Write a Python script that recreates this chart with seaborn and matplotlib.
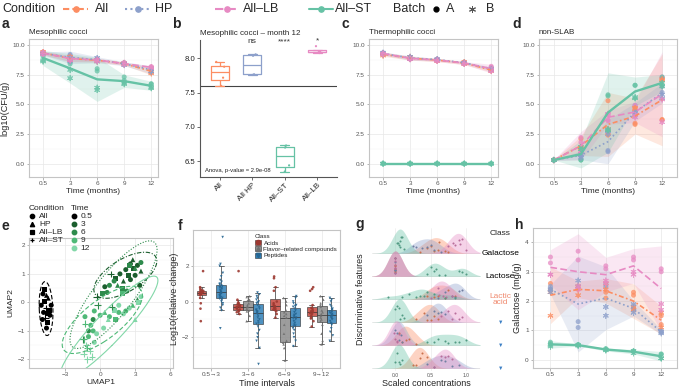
import numpy as np
import pandas as pd
import matplotlib
matplotlib.use("Agg")
import matplotlib.pyplot as plt
from matplotlib.lines import Line2D
from matplotlib.patches import Patch
from matplotlib.ticker import AutoMinorLocator
from matplotlib.colors import to_hex, to_rgb
import seaborn as sns

COND = ["All", "HP", "All–LB", "All–ST"]
COND_COLORS = ["#fc8d62", "#8da0cb", "#e78ac3", "#66c2a5"]
TIMES = ["0.5", "3", "6", "9", "12"]
BATCH = ["A", "A", "B", "B"]

# a: mesophilic cocci, log10(CFU/g); one list per time point
meso_all = [[9.35, 9.3, 9.4, 9.25], [8.9, 8.8, 9.0, 8.7], [8.7, 8.8, 8.6, 8.75], [8.4, 8.5, 8.35, 8.45], [7.95, 7.88, 7.72, 7.6]]
meso_hp = [[9.3, 9.35, 9.2, 9.3], [9.2, 9.1, 8.6, 8.9], [8.8, 8.7, 8.9, 8.6], [8.5, 8.4, 8.45, 8.3], [8.06, 8.04, 7.77, 7.76]]
meso_lb = [[9.4, 9.3, 9.35, 9.2], [8.9, 9.0, 8.8, 8.7], [8.7, 8.8, 8.65, 8.75], [8.4, 8.45, 8.35, 8.5], [8.18, 8.1, 8.1, 8.08]]
meso_st = [[9.3, 9.0, 8.7, 8.6], [8.6, 8.4, 7.2, 7.9], [8.0, 7.8, 6.2, 6.4], [7.3, 7.0, 6.7, 6.8], [6.73, 6.7, 6.44, 6.35]]

# c: thermophilic cocci
thermo_all = [[9.2, 9.3, 9.1, 9.25], [8.9, 8.8, 9.0, 8.85], [8.7, 8.8, 8.75, 8.65], [8.5, 8.45, 8.55, 8.4], [7.9, 8.0, 7.85, 7.8]]
thermo_hp = [[9.3, 9.25, 9.2, 9.35], [8.95, 8.85, 8.8, 9.0], [8.8, 8.7, 8.75, 8.8], [8.55, 8.5, 8.45, 8.5], [8.1, 8.0, 7.9, 7.95]]
thermo_lb = [[9.3, 9.35, 9.25, 9.2], [8.9, 8.95, 8.85, 8.8], [8.75, 8.8, 8.7, 8.65], [8.5, 8.55, 8.45, 8.4], [8.2, 8.1, 7.8, 7.9]]
thermo_st = [[0, 0, 0, 0], [0, 0, 0, 0], [0, 0, 0, 0], [0, 0, 0, 0], [0, 0, 0, 0]]

# d: non-SLAB
nonslab_all = [[0.3, 0.32, 0.28, 0.3], [2.1, 1.4, 1.2, 1.3], [5.3, 2.4, 2.6, 2.9], [3.3, 3.4, 4.6, 4.7], [3.7, 3.7, 7.1, 7.0]]
nonslab_hp = [[0.3, 0.3, 0.32, 0.28], [0.9, 0.6, 0.5, 0.8], [1.1, 1.0, 2.8, 2.5], [4.9, 4.0, 4.3, 4.2], [6.5, 6.0, 5.5, 5.8]]
nonslab_lb = [[0.3, 0.28, 0.3, 0.32], [2.2, 1.8, 1.0, 1.0], [3.6, 3.7, 4.2, 4.1], [4.9, 4.5, 4.1, 3.9], [7.3, 7.2, 3.5, 5.4]]
nonslab_st = [[0.3, 0.3, 0.3, 0.3], [0.3, 0.3, 1.2, 1.4], [5.8, 5.7, 2.9, 2.8], [6.6, 6.6, 5.6, 5.5], [7.3, 6.6, 6.5, 6.8]]

# h: galactose (mg/g)
gal_all = [[2.6, 2.4, 2.3, 1.5], [2.5, 2.4, 2.2, 2.5], [2.3, 2.1, 2.6, 2.4], [2.3, 2.2, 1.7, 1.8], [1.5, 1.2, 1.6, 1.1]]
gal_hp = [[2.5, 2.4, 2.3, 2.4], [1.3, 1.1, 2.5, 2.7], [2.6, 2.5, 1.8, 1.5], [1.8, 1.7, 1.6, 1.9], [1.0, 0.95, 0.9, 0.95]]
gal_lb = [[3.5, 3.3, 2.9, 2.9], [3.7, 3.4, 2.5, 2.4], [3.2, 3.1, 2.7, 2.6], [3.5, 3.4, 2.9, 3.0], [3.1, 3.0, 1.9, 1.7]]
gal_st = [[0.6, 0.55, 0.45, 0.5], [0.5, 0.52, 0.48, 0.5], [0.38, 0.35, 0.32, 0.35], [0.3, 0.28, 0.22, 0.3], [0.2, 0.18, 0.05, 0.05]]

# b: month-12 groups
B_ORDER = ["All", "All HP", "All–ST", "All–LB"]
B_COLORS = ["#fc8d62", "#8da0cb", "#66c2a5", "#e78ac3"]

# e: UMAP coordinates
umap_x = [-4.9, -4.6, -4.45, -4.8, -5.05, -4.65, -4.35, -4.85, -4.55, -4.3, -4.7, -4.95, -4.5, -4.6, -4.75, -4.2,
          2.8, 2.6, 3.2, 2.9, 3.5, 2.2, 1.7, 2.4, 3.0, 2.6, 0.9, 3.4, 1.3, 2.0, 0.4, -0.3,
          -1.5, -1.0, -0.6, -0.2, 0.2, 0.6, 0.8, 1.2, 1.5, 1.9, 2.3, 2.5, 3.0, 3.5, 3.2, 1.0,
          -0.5, 0.0, 0.4, 0.8, 1.3, 1.6, 2.2, 2.8, -1.3, -0.8, -1.3, -1.0, -0.6, -1.4, -1.1, 1.9,
          -1.2, -0.9, -1.4, -0.7, -1.1, -0.5, -0.3, 0.3, 1.2, 3.0, 2.5, 3.3, 2.0, 0.7, 3.5, 1.6]
umap_y = [0.3, 0.25, 0.15, 0.05, -0.1, -0.2, -0.3, -0.35, -0.4, -0.45, -0.55, -0.6, -0.7, -0.9, 0.45, -0.1,
          1.5, 1.35, 1.3, 1.2, 1.1, 1.15, 1.0, 0.95, 0.95, 0.8, 1.0, 0.6, 0.85, 0.75, 0.55, 0.2,
          -1.3, -1.0, -0.6, -0.1, 0.3, 0.35, 0.6, 0.75, 0.6, 0.5, 0.4, 1.3, 1.2, 1.4, 0.1, -0.15,
          -0.3, -0.45, -0.35, -0.5, -0.6, -0.35, -0.3, -0.1, -0.5, -0.8, -0.75, -1.2, -1.0, -1.3, -1.6, 0.3,
          -1.5, -1.7, -1.8, -1.9, -2.0, -1.4, -1.1, -0.9, -0.3, -0.6, -0.2, 0.0, -0.4, -0.6, 0.2, -0.1]
umap_cond = ["All", "HP", "HP", "All–LB", "All", "All–ST", "All–LB", "All", "All–LB", "All", "All–ST", "All", "All–LB", "All", "All–LB", "All",
             "HP", "All", "All", "All–LB", "HP", "All", "All", "All–LB", "All", "All", "All–ST", "All", "All–LB", "HP", "All", "All–ST",
             "All–ST", "All", "All", "All–ST", "All–LB", "All", "All", "All", "HP", "All–LB", "All", "All–LB", "HP", "All", "HP", "All–ST",
             "All", "All", "HP", "All", "All–LB", "All", "All", "HP", "All", "All", "All–ST", "All", "All", "All–ST", "All–ST", "All–LB",
             "All–ST", "All–ST", "All–ST", "All–ST", "All–ST", "All", "All", "All", "All–LB", "HP", "All", "All–LB", "All", "HP", "All", "All"]
umap_time = ["0.5"] * 16 + ["3"] * 16 + ["6"] * 16 + ["9"] * 16 + ["12"] * 16
TIME_COLORS = ["#000000", "#1b5e2e", "#2e8b4c", "#4fb977", "#82d7a8"]

# f: log10 relative change per interval and class
INTERVALS = ["0.5→3", "3→6", "6→9", "9→12"]
CLASSES = ["Acids", "Flavor–related compounds", "Peptides"]
CLASS_COLORS = ["#c4473d", "#8c8c8c", "#2f7fb6"]
acids_1 = [1.7, 0.8, 0.7, 0.65, 0.6, 0.6, 0.55, 0.55, 0.5, 0.5, 0.45, 0.45, 0.4, 0.35, 0.2, -0.1, -0.4, -1.1]
pep_1 = [3.6, 2.1, 2.0, 1.6, 1.4, 1.2, 1.1, 1.0, 0.95, 0.9, 0.85, 0.8, 0.8, 0.75, 0.7, 0.65, 0.6, 0.55,
         0.5, 0.5, 0.45, 0.4, 0.35, 0.3, 0.25, 0.2, 0.2, 0.15, 0.1, 0.0, -0.1, -0.2, -0.35, -0.5, -1.5]
acids_2 = [1.7, 0.1, -0.05, -0.1, -0.15, -0.2, -0.25, -0.3, -0.3, -0.35, -0.4, -0.45, -0.5, -0.55, -0.6, -0.7]
flav_2 = [0.3, 0.25, 0.1, 0.05, -0.1, -0.2, -0.3, -0.3, -0.4, -0.5, -0.55, -0.8, -1.1]
pep_2 = [0.5, 0.4, 0.3, 0.2, 0.1, 0.0, -0.05, -0.1, -0.2, -0.3, -0.4, -0.45, -0.5, -0.55, -0.6,
         -0.65, -0.7, -0.8, -0.9, -1.0, -1.1, -1.2, -1.25, -1.4, -1.6, -1.8, -2.0, -2.2, -2.6, -3.5]
acids_3 = [1.4, 1.3, 0.8, 0.6, 0.0, -0.1, -0.2, -0.25, -0.3, -0.35, -0.4, -0.45, -0.5, -0.55, -0.7, -0.9]
flav_3 = [0.2, 0.0, -0.2, -0.5, -0.6, -0.7, -0.8, -0.9, -1.3, -1.8, -2.2, -2.3, -2.4, -2.6, -3.3]
pep_3 = [0.3, 0.2, 0.0, -0.1, -0.2, -0.25, -0.3, -0.4, -0.5, -0.6, -0.7, -0.75, -0.8, -0.85,
         -0.9, -0.95, -1.0, -1.1, -1.2, -1.3, -1.35, -1.4, -1.5, -1.6, -1.8, -2.0, -2.2, -2.5]
acids_4 = [0.8, 0.7, 0.6, -0.2, -0.35, -0.4, -0.5, -0.55, -0.6, -0.65, -0.7, -0.8, -0.9, -0.95, -1.1, -1.4]
flav_4 = [0.3, 0.1, -0.1, -0.2, -0.3, -0.5, -0.6, -0.7, -0.8, -0.9, -1.0, -1.1, -1.3, -1.8, -2.2, -2.4]
pep_4 = [0.2, 0.1, 0.0, -0.2, -0.3, -0.4, -0.45, -0.5, -0.55, -0.6, -0.65, -0.7, -0.75, -0.8,
         -0.85, -0.9, -0.95, -1.0, -1.1, -1.2, -1.25, -1.3, -1.5, -1.7, -1.9, -2.2]

# g: scaled concentrations of discriminative features (All, HP, All-LB, All-ST)
galsc_all = [0.35, 0.45, 0.5, 0.55, 0.6, 0.62, 0.7, 0.75]
galsc_hp = [0.25, 0.3, 0.38, 0.45, 0.5, 0.55, 0.65]
galsc_lb = [0.75, 0.82, 0.85, 0.9, 0.92, 0.95, 1.0]
galsc_st = [0.02, 0.04, 0.05, 0.06, 0.07, 0.08, 0.1, 0.12]
lacsc_all = [0, 0, 0, 0, 0, 0]
lacsc_hp = [0, 0, 0, 0, 0, 0]
lacsc_lb = [0, 0, 0, 0, 0, 0]
lacsc_st = [0.45, 0.5, 0.55, 0.58, 0.62, 0.7, 0.9, 0.95, 1.0]
lasc_all = [0.45, 0.55, 0.6, 0.7, 0.75, 0.85]
lasc_hp = [0.6, 0.7, 0.8, 0.85, 0.9, 0.95]
lasc_lb = [0.5, 0.6, 0.62, 0.68, 0.72, 0.8]
lasc_st = [-0.1, 0.1, 0.2, 0.3, 0.35, 0.4, 0.45, 0.55, 0.7, 0.85]
p1sc_all = [0.3, 0.4, 0.45, 0.5, 0.55, 0.6]
p1sc_hp = [0.45, 0.55, 0.6, 0.65, 0.7]
p1sc_lb = [0.65, 0.75, 0.8, 0.85, 0.9, 0.95]
p1sc_st = [0.0, 0.02, 0.05, 0.07, 0.1, 0.12]
p2sc_all = [0.05, 0.1, 0.15, 0.2, 0.3]
p2sc_hp = [0.0, 0.02, 0.05, 0.08, 0.1]
p2sc_lb = [-0.02, 0.0, 0.02, 0.03, 0.05]
p2sc_st = [0.45, 0.55, 0.6, 0.7, 0.75, 0.85, 0.9, 1.0]
p3sc_all = [0.25, 0.3, 0.35, 0.38, 0.45]
p3sc_hp = [0.45, 0.55, 0.65, 0.7, 0.8, 0.9]
p3sc_lb = [0.55, 0.65, 0.7, 0.75, 0.8]
p3sc_st = [0.0, 0.03, 0.05, 0.07, 0.1]

PAL = dict(zip(COND, COND_COLORS))
DASHES = {"All": (3, 1.5, 1, 1.5), "HP": (1, 1.6), "All–LB": (4, 2), "All–ST": ""}

sns.set_theme(style="white")
plt.rcParams["font.family"] = ["Liberation Sans", "DejaVu Sans"]

W, H = 680, 387
fig = plt.figure(figsize=(W / 100, H / 100), dpi=100)


def add_ax(l, t, r, b):
    return fig.add_axes([l / W, 1 - b / H, (r - l) / W, (b - t) / H])


def darker(c, f=0.75):
    return tuple(v * f for v in to_rgb(c))


def light(ax, minor_y=True):
    ax.set_facecolor("white")
    ax.set_axisbelow(True)
    ax.grid(True, which="major", color="#e8e8e8", lw=0.5)
    if minor_y:
        ax.yaxis.set_minor_locator(AutoMinorLocator(2))
        ax.grid(True, which="minor", axis="y", color="#f3f3f3", lw=0.35)
    for s in ax.spines.values():
        s.set_visible(True)
        s.set_color("#c4c4c4")
        s.set_linewidth(0.8)
    ax.tick_params(which="major", bottom=True, left=True, labelsize=4.6, labelcolor="#555555",
                   color="#999999", length=1.8, width=0.5, pad=1.2)
    ax.tick_params(which="minor", length=0)


def cond_frame(series):
    rows = []
    for cond, per_time in zip(COND, series):
        for ti, vals in enumerate(per_time):
            for b, v in zip(BATCH, vals):
                rows.append((cond, ti, b, v))
    return pd.DataFrame(rows, columns=["Condition", "t", "Batch", "value"])


def time_panel(ax, series, title, xlim, ylim, yticks, yticklabels):
    df = cond_frame(series)
    sns.lineplot(data=df, x="t", y="value", hue="Condition", style="Condition",
                 hue_order=COND, style_order=COND, palette=PAL, dashes=DASHES,
                 errorbar=("sd", 2), err_kws={"alpha": 0.2, "linewidth": 0},
                 linewidth=1.2, legend=False, ax=ax)
    for ln in ax.lines:
        if to_hex(ln.get_color()) == PAL["All–ST"]:
            ln.set_linewidth(1.7)
    sns.scatterplot(data=df[df.Batch == "A"], x="t", y="value", hue="Condition", hue_order=COND,
                    palette=PAL, marker="o", s=13, alpha=0.75, linewidth=0, legend=False, ax=ax)
    sns.scatterplot(data=df[df.Batch == "B"], x="t", y="value", hue="Condition", hue_order=COND,
                    palette=PAL, marker=(6, 2, 0), s=14, alpha=0.8, linewidth=0.7, legend=False, ax=ax)
    ax.set_xlim(*xlim)
    ax.set_ylim(*ylim)
    ax.set_xticks(range(len(TIMES)))
    ax.set_xticklabels(TIMES)
    ax.set_yticks(yticks)
    ax.set_yticklabels(yticklabels)
    light(ax)
    ax.set_xlabel("Time (months)", fontsize=6, labelpad=1.5)
    ax.set_ylabel("")
    if title:
        ax.set_title(title, loc="left", fontsize=5.8, pad=3.5)


cfu_ticks = [0, 2.5, 5, 7.5, 10]
cfu_labels = ["0.0", "2.5", "5.0", "7.5", "10.0"]

# ---- a
ax_a = add_ax(29, 39, 158, 177)
time_panel(ax_a, [meso_all, meso_hp, meso_lb, meso_st], "Mesophilic cocci", (-0.52, 4.25), (-1.13, 10.5), cfu_ticks, cfu_labels)
ax_a.set_ylabel("log10(CFU/g)", fontsize=6.6, labelpad=2)

# ---- c
ax_c = add_ax(369, 39, 498, 177)
time_panel(ax_c, [thermo_all, thermo_hp, thermo_lb, thermo_st], "Thermophilic cocci", (-0.52, 4.25), (-1.13, 10.5), cfu_ticks, cfu_labels)

# ---- d
ax_d = add_ax(539, 39, 677, 177)
time_panel(ax_d, [nonslab_all, nonslab_hp, nonslab_lb, nonslab_st], "non-SLAB", (-0.55, 4.55), (-1.13, 10.5), cfu_ticks, cfu_labels)

# ---- h
ax_h = add_ax(533, 228, 677, 368)
time_panel(ax_h, [gal_all, gal_hp, gal_lb, gal_st], None, (-0.63, 4.57), (-0.28, 4.49), [0, 1, 2, 3, 4], ["0", "1", "2", "3", "4"])
ax_h.set_xlabel("")
ax_h.set_ylabel("Galactose (mg/g)", fontsize=6.6, labelpad=2)

# ---- b
ax_b = add_ax(200, 40, 337, 177)
b_vals = [meso_all[4], meso_hp[4], meso_st[4], meso_lb[4]]
bdf = pd.DataFrame({"Group": np.repeat(B_ORDER, [len(v) for v in b_vals]), "value": np.concatenate(b_vals)})
b_pal = dict(zip(B_ORDER, B_COLORS))
ax_b.axhline(bdf["value"].mean(), color="#444444", lw=0.8, zorder=0)
sns.boxplot(data=bdf, x="Group", y="value", hue="Group", order=B_ORDER, hue_order=B_ORDER, palette=b_pal,
            fill=False, width=0.55, linewidth=0.9, showfliers=False, legend=False, ax=ax_b)
sns.stripplot(data=bdf, x="Group", y="value", hue="Group", order=B_ORDER, hue_order=B_ORDER, palette=b_pal,
              size=1.6, jitter=0.15, legend=False, ax=ax_b)
ax_b.set_ylim(6.27, 8.27)
ax_b.set_yticks([6.5, 7.0, 7.5, 8.0])
ax_b.set_yticklabels(["6.5", "7.0", "7.5", "8.0"])
ax_b.set_xlim(-0.6, 3.6)
for s in ["top", "right"]:
    ax_b.spines[s].set_visible(False)
for s in ["left", "bottom"]:
    ax_b.spines[s].set_color("#555555")
    ax_b.spines[s].set_linewidth(0.8)
ax_b.tick_params(bottom=True, left=True, labelsize=5.6, labelcolor="#222222", color="#555555",
                 length=2, width=0.6, pad=1.2)
plt.setp(ax_b.get_xticklabels(), rotation=45, ha="right", rotation_mode="anchor", fontsize=5.8)
ax_b.set_xlabel("")
ax_b.set_ylabel("")
ax_b.set_title("Mesophilic cocci – month 12", loc="left", fontsize=5.8, pad=3.5)
for xi, lab, yv in [(1, "ns", 8.19), (2, "****", 8.19), (3, "*", 8.2)]:
    ax_b.text(xi, yv, lab, ha="center", va="bottom", fontsize=6, color="#333333")
ax_b.text(0.04, 0.035, "Anova, p-value = 2.9e-08", transform=ax_b.transAxes, fontsize=4.2, color="#222222")

# ---- e
ax_e = add_ax(29, 238, 173, 368)
edf = pd.DataFrame({"x": umap_x, "y": umap_y, "Condition": umap_cond, "Time": umap_time})
time_pal = dict(zip(TIMES, TIME_COLORS))
ell_styles = {"0.5": (0, (4, 2)), "3": (0, (4, 1.5, 1, 1.5)), "6": (0, (1, 1.5)), "9": (0, (4, 2)), "12": "-"}
t = np.linspace(0, 2 * np.pi, 200)
for tm in TIMES:
    sub = edf[edf.Time == tm]
    pts = sub[["x", "y"]].to_numpy()
    mu = pts.mean(axis=0)
    vals, vecs = np.linalg.eigh(np.cov(pts, rowvar=False))
    ell = (np.column_stack([np.cos(t), np.sin(t)]) * np.sqrt(vals) * 2.45) @ vecs.T + mu
    ax_e.plot(ell[:, 0], ell[:, 1], color=time_pal[tm], ls=ell_styles[tm], lw=0.8)
shape_map = {"All": "o", "HP": "^", "All–LB": "s"}
sns.scatterplot(data=edf[edf.Condition != "All–ST"], x="x", y="y", hue="Time", hue_order=TIMES, palette=time_pal,
                style="Condition", style_order=list(shape_map), markers=shape_map, s=13, linewidth=0,
                legend=False, ax=ax_e)
sns.scatterplot(data=edf[edf.Condition == "All–ST"], x="x", y="y", hue="Time", hue_order=TIMES, palette=time_pal,
                marker="+", s=24, linewidth=0.8, legend=False, ax=ax_e)
ax_e.set_xlim(-6.1, 6.25)
ax_e.set_ylim(-2.3, 2.26)
ax_e.set_xticks([-3, 0, 3, 6])
ax_e.set_yticks([-2, -1, 0, 1, 2])
light(ax_e)
ax_e.set_xlabel("UMAP1", fontsize=6, labelpad=1)
ax_e.set_ylabel("UMAP2", fontsize=6, labelpad=2)
cond_h = [Line2D([], [], marker=m, color="black", ls="", ms=3.2, mew=0.9) for m in ["o", "^", "s", "+"]]
leg1 = ax_e.legend(cond_h, ["All", "HP", "All–LB", "All–ST"], title="Condition", loc="upper left",
                   bbox_to_anchor=(0.0, 1.25), frameon=False, fontsize=6, title_fontsize=6,
                   handlelength=0.8, handletextpad=0.4, labelspacing=0.02, borderpad=0, borderaxespad=0)
leg1._legend_box.align = "left"
ax_e.add_artist(leg1)
time_h = [Line2D([], [], marker="o", color=c, ls="", ms=3.2) for c in TIME_COLORS]
leg2 = ax_e.legend(time_h, TIMES, title="Time", loc="upper left", bbox_to_anchor=(0.29, 1.25), frameon=False,
                   fontsize=6, title_fontsize=6, handlelength=0.8, handletextpad=0.4, labelspacing=0.02,
                   borderpad=0, borderaxespad=0)
leg2._legend_box.align = "left"

# ---- f
ax_f = add_ax(193, 230, 340, 368)
f_groups = [(INTERVALS[0], CLASSES[0], acids_1), (INTERVALS[0], CLASSES[2], pep_1),
            (INTERVALS[1], CLASSES[0], acids_2), (INTERVALS[1], CLASSES[1], flav_2), (INTERVALS[1], CLASSES[2], pep_2),
            (INTERVALS[2], CLASSES[0], acids_3), (INTERVALS[2], CLASSES[1], flav_3), (INTERVALS[2], CLASSES[2], pep_3),
            (INTERVALS[3], CLASSES[0], acids_4), (INTERVALS[3], CLASSES[1], flav_4), (INTERVALS[3], CLASSES[2], pep_4)]
fdf = pd.DataFrame([(iv, cl, v) for iv, cl, vals in f_groups for v in vals], columns=["Interval", "Class", "value"])
class_pal = dict(zip(CLASSES, CLASS_COLORS))
class_dark = {c: darker(col, 0.8) for c, col in class_pal.items()}
sns.boxplot(data=fdf, x="Interval", y="value", hue="Class", order=INTERVALS, hue_order=CLASSES, palette=class_pal,
            width=0.8, linewidth=0.5, linecolor="#333333", showfliers=False, saturation=1, legend=False,
            boxprops={"alpha": 0.85}, ax=ax_f)
for cl, mk in zip(CLASSES, ["o", "^", "v"]):
    sns.stripplot(data=fdf[fdf.Class == cl], x="Interval", y="value", hue="Class", order=INTERVALS,
                  hue_order=CLASSES, palette=class_dark, dodge=True, jitter=0.14, size=1.9, marker=mk,
                  linewidth=0, alpha=0.9, legend=False, ax=ax_f)
ax_f.set_ylim(-3.72, 4.0)
ax_f.set_yticks([-2, 0, 2])
light(ax_f)
ax_f.set_xlabel("Time intervals", fontsize=6.5, labelpad=1)
ax_f.set_ylabel("Log10(relative change)", fontsize=6.5, labelpad=2)
f_handles = [(Patch(fc=class_pal[c], ec="#333333", lw=0.4), Line2D([], [], marker=m, color=class_dark[c], ls="", ms=3))
             for c, m in zip(CLASSES, ["o", "^", "v"])]
legf = ax_f.legend(f_handles, CLASSES, title="Class", loc="upper left", bbox_to_anchor=(0.42, 0.97), frameon=False,
                   fontsize=4.5, title_fontsize=4.5, handlelength=1.0, handleheight=0.9, handletextpad=0.4,
                   labelspacing=0.1, borderpad=0, borderaxespad=0)
legf._legend_box.align = "left"

# ---- g (ridgelines)
ax_g = add_ax(372, 228, 480, 371)
ridge_rows = [(galsc_all, galsc_hp, galsc_lb, galsc_st),
              (lacsc_all, lacsc_hp, lacsc_lb, lacsc_st),
              (lasc_all, lasc_hp, lasc_lb, lasc_st),
              (p1sc_all, p1sc_hp, p1sc_lb, p1sc_st),
              (p2sc_all, p2sc_hp, p2sc_lb, p2sc_st),
              (p3sc_all, p3sc_hp, p3sc_lb, p3sc_st)]
XG = np.linspace(-0.5, 1.4, 400)


def kde(vals, bw=0.105):
    v = np.asarray(vals, dtype=float)[:, None]
    return np.exp(-0.5 * ((XG - v) / bw) ** 2).sum(0) / (len(v) * bw * np.sqrt(2 * np.pi))


dens = [[kde(v) for v in row] for row in ridge_rows]
scale = 1.1 / max(d.max() for row in dens for d in row)
rng = np.random.default_rng(11)
nrow = len(ridge_rows)
for xv in [0, 0.5, 1.0]:
    ax_g.axvline(xv, color="#ececec", lw=0.5, zorder=0)
for i, (row, drow) in enumerate(zip(ridge_rows, dens)):
    base = nrow - 1 - i
    ax_g.axhline(base, color="#e0e0e0", lw=0.5, zorder=10 * i)
    for c, vals, d in zip(COND, row, drow):
        ax_g.fill_between(XG, base, base + d * scale, color=PAL[c], alpha=0.38, lw=0, zorder=10 * i + 1)
    for c, vals, d in zip(COND, row, drow):
        hv = np.interp(vals, XG, d) * scale
        ax_g.scatter(vals, base + hv * rng.uniform(0.1, 0.8, len(vals)), s=2.2, color=darker(PAL[c], 0.8),
                     lw=0, zorder=10 * i + 2)
ax_g.set_xlim(-0.33, 1.2)
ax_g.set_ylim(-0.12, 6.1)
ax_g.set_yticks([])
ax_g.set_xticks([0, 0.5, 1.0])
ax_g.set_xticklabels(["0.0", "0.5", "1.0"])
ax_g.tick_params(labelsize=3.6, labelcolor="#555555", length=0, pad=1.5)
for s in ax_g.spines.values():
    s.set_visible(False)
ax_g.set_facecolor("none")
ax_g.set_xlabel("Scaled concentrations", fontsize=6.5, labelpad=1)
ax_g.set_ylabel("Discriminative features", fontsize=6.5, labelpad=5)
ytr = ax_g.get_yaxis_transform()
ax_g.text(1.19, 5.85, "Class", transform=ytr, ha="center", va="center", fontsize=6)
for yv, lab, col, fs in [(5, "Galactose", "black", 6), (4, "Lactose", "black", 6), (3, "Lactic\nacid", "#f08b70", 6),
                         (2, "▼", "#3b7fc4", 4), (1, "▼", "#3b7fc4", 4), (0, "▼", "#3b7fc4", 4)]:
    ax_g.text(1.19, yv, lab, transform=ytr, ha="center", va="center", fontsize=fs, color=col, linespacing=0.85)

# ---- panel letters
for lab, x, y in [("a", 2, 28), ("b", 172, 28), ("c", 342, 28), ("d", 512, 28),
                  ("e", 2, 230), ("f", 178, 230), ("g", 355, 228), ("h", 515, 229)]:
    fig.text(x / W, 1 - y / H, lab, fontsize=10, fontweight="bold", va="baseline")

# ---- top legend
yl = 1 - 9 / H
fig.text(2 / W, yl, "Condition", fontsize=9, va="center")
for cond, x0, x1, xt in zip(COND, [63, 125, 215, 309], [88, 150, 240, 333], [95, 155, 243, 335]):
    ls = (0, DASHES[cond]) if DASHES[cond] else "-"
    fig.add_artist(Line2D([x0 / W, x1 / W], [yl, yl], color=PAL[cond], lw=1.5, ls=ls))
    fig.add_artist(Line2D([(x0 + x1) / 2 / W], [yl], color=PAL[cond], marker="o", ms=3.8, ls=""))
    fig.text(xt / W, yl, cond, fontsize=9, va="center")
fig.text(393 / W, yl, "Batch", fontsize=9, va="center")
fig.add_artist(Line2D([436 / W], [yl], color="black", marker="o", ms=3.5, ls=""))
fig.text(446 / W, yl, "A", fontsize=9, va="center")
fig.add_artist(Line2D([472 / W], [yl], color="#555555", marker=(6, 2, 0), ms=5, mew=0.7, ls=""))
fig.text(486 / W, yl, "B", fontsize=9, va="center")

fig.savefig("out.png", dpi=100)
